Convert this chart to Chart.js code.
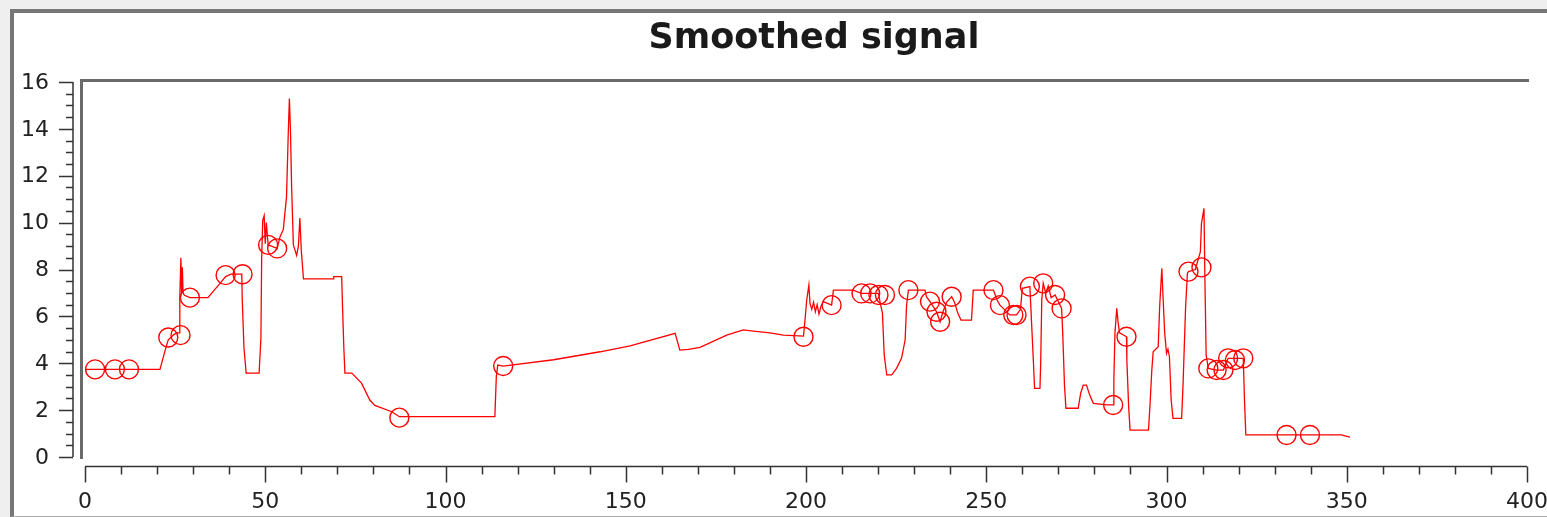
<!DOCTYPE html>
<html>
<head>
<meta charset="utf-8">
<script src="https://cdn.jsdelivr.net/npm/chart.js@4"></script>
<style>
    html, body { margin: 0; padding: 0; background: #efefef; overflow: hidden; }
    #frame {
        position: absolute; left: 10px; top: 9px; width: 1560px; height: 503px;
        background: #fff; border-left: 4px solid #777; border-top: 4px solid #777;
        border-bottom: 1px solid #aaa;
    }
    #wrap { position: absolute; left: 0; top: 0; width: 1547px; height: 517px; }
</style>
</head>
<body>
<div id="frame"></div>
<div id="wrap"><canvas id="signal"></canvas></div>
<script>
// smoothed signal
const lineX = [0, 20.8, 21.6, 22.5, 23.1, 24.5, 25.5, 26.1, 26.3, 26.6, 26.8, 27.0, 27.2, 27.6, 29.1, 34.1, 37.4, 39.0, 40.5, 43.5,
    43.6, 44.1, 44.7, 48.3, 48.8, 49.0, 49.3, 49.7, 50.0, 50.3, 50.8, 53.3, 54.1, 55.0, 55.9, 56.4, 56.7, 57.0, 57.3, 57.8,
    58.7, 59.2, 59.6, 60.0, 60.6, 68.8, 69.0, 71.2, 71.4, 71.8, 72.1, 74.0, 76.7, 79.0, 80.4, 85.1, 87.2, 113.7, 113.8, 114.1,
    114.5, 116.0, 130.0, 142.9, 151.2, 163.7, 165.0, 167.4, 170.6, 178.0, 182.6, 185.4, 190.0, 193.7, 199.3, 199.6, 200.2, 200.8, 201.1, 201.6,
    202.1, 202.6, 203.1, 203.6, 204.1, 204.8, 207.1, 207.6, 213.1, 215.4, 220.1, 220.6, 221.2, 221.7, 222.4, 223.8, 225.1, 226.5, 227.5, 227.9,
    228.4, 233.0, 233.4, 234.4, 236.2, 237.2, 238.0, 239.0, 240.4, 241.2, 242.1, 243.0, 245.9, 246.4, 252.0, 253.0, 253.8, 255.0, 256.5, 258.4,
    259.5, 260.0, 262.1, 263.1, 263.4, 264.9, 265.1, 265.4, 265.8, 266.5, 267.2, 268.0, 269.1, 270.9, 271.2, 271.7, 272.1, 275.5, 276.2, 276.9,
    277.8, 278.7, 279.7, 283.4, 285.2, 285.4, 285.7, 286.2, 286.6, 287.0, 288.9, 289.0, 289.5, 289.9, 295.0, 295.4, 295.9, 296.3, 297.7, 298.1,
    298.7, 299.0, 299.5, 300.0, 300.4, 300.8, 301.3, 301.8, 304.2, 304.6, 305.3, 305.8, 306.1, 308.0, 309.4, 309.7, 310.4, 310.6, 311.0, 311.6,
    313.9, 315.8, 317.1, 321.3, 321.6, 322.0, 348.5, 350.9];
const lineY = [3.74, 3.74, 4.2, 4.7, 5.0, 5.2, 5.3, 5.3, 6.8, 8.5, 7.0, 8.1, 7.0, 6.9, 6.8, 6.8, 7.4, 7.7, 7.8, 7.8,
    6.8, 4.65, 3.58, 3.58, 5.1, 8.4, 10.1, 10.3, 9.1, 10.0, 9.05, 8.9, 9.4, 9.7, 11.1, 13.9, 15.3, 13.9, 11.6, 9.05,
    8.6, 9.0, 10.2, 8.8, 7.6, 7.6, 7.7, 7.7, 6.6, 4.65, 3.58, 3.58, 3.15, 2.43, 2.2, 1.93, 1.72, 1.72, 2.2, 3.43,
    3.92, 3.88, 4.15, 4.49, 4.74, 5.28, 4.56, 4.59, 4.68, 5.2, 5.42, 5.37, 5.30, 5.2, 5.16, 5.63, 6.7, 7.34, 6.56, 6.3,
    6.6, 6.2, 6.5, 6.1, 6.4, 6.63, 6.48, 7.12, 7.12, 6.98, 6.98, 6.57, 6.14, 4.35, 3.5, 3.5, 3.78, 4.21, 4.99, 6.48,
    7.12, 7.12, 6.84, 6.63, 6.2, 5.77, 6.2, 6.6, 6.84, 6.6, 6.14, 5.84, 5.84, 7.12, 7.12, 6.7, 6.48, 6.3, 6.06, 6.06,
    6.3, 7.2, 7.27, 4.0, 2.93, 2.93, 4.0, 6.7, 7.41, 7.0, 7.3, 6.8, 6.91, 6.34, 5.35, 3.07, 2.08, 2.08, 2.72, 3.07,
    3.07, 2.64, 2.29, 2.22, 2.22, 3.28, 5.28, 6.34, 5.7, 5.3, 5.13, 4.14, 2.15, 1.15, 1.15, 2.15, 3.64, 4.49, 4.71, 6.41,
    8.05, 6.98, 5.28, 4.42, 4.6, 4.3, 2.43, 1.65, 1.65, 3.14, 6.41, 7.84, 7.91, 8.0, 8.76, 9.97, 10.61, 8.1, 4.35, 3.78,
    3.71, 3.71, 4.21, 4.21, 2.57, 0.94, 0.94, 0.85];

// circled samples
const markX = [2.8, 8.3, 12.2, 23.1, 26.5, 29.1, 39.0, 43.7, 50.8, 53.3, 87.2, 116.0, 199.3, 207.1, 215.4, 217.8, 220.1, 221.9,
    228.4, 234.4, 236.2, 237.2, 240.4, 252.0, 253.8, 257.5, 258.4, 262.1, 265.8, 269.1, 270.9, 285.2, 288.9, 306.1, 309.7,
    311.6, 313.9, 315.8, 317.1, 319.0, 321.3, 333.3, 339.8];
const markY = [3.74, 3.74, 3.74, 5.1, 5.2, 6.8, 7.76, 7.8, 9.05, 8.9, 1.68, 3.88, 5.13, 6.48, 6.98, 6.98, 6.91, 6.91,
    7.12, 6.63, 6.2, 5.77, 6.84, 7.12, 6.48, 6.06, 6.06, 7.27, 7.41, 6.91, 6.34, 2.22, 5.13, 7.91, 8.09,
    3.78, 3.71, 3.71, 4.21, 4.14, 4.21, 0.94, 0.94];

const xTicks = [0, 50, 100, 150, 200, 250, 300, 350, 400];
const yTicks = [0, 2, 4, 6, 8, 10, 12, 14, 16];
const xMinorStep = 10;
const yMinorStep = 0.5;

const toPoints = (xs, ys) => xs.map((v, i) => ({x: v, y: ys[i]}));

// scilab-like rulers, offset from the plot box
const rulers = {
    id: 'rulers',
    afterDraw: (chart) => {
        const {ctx, scales: {x, y}} = chart;
        const xMin = xTicks[0], xMax = xTicks[xTicks.length - 1];
        const yMin = yTicks[0], yMax = yTicks[yTicks.length - 1];
        ctx.save();

        // box (top + left only)
        ctx.strokeStyle = '#6a6a6a';
        ctx.lineWidth = 3;
        ctx.beginPath();
        ctx.moveTo(x.left - 3.5, y.getPixelForValue(yMin) + 2);
        ctx.lineTo(x.left - 3.5, y.top - 1.5);
        ctx.lineTo(x.right + 2, y.top - 1.5);
        ctx.stroke();

        ctx.strokeStyle = '#333';
        ctx.lineWidth = 1.5;
        ctx.fillStyle = '#222';
        ctx.font = '22px "DejaVu Sans"';

        // y ruler
        const rx = x.left - 12;
        ctx.beginPath();
        ctx.moveTo(rx, y.getPixelForValue(yMin));
        ctx.lineTo(rx, y.getPixelForValue(yMax));
        for (let v = yMin; v <= yMax + 1e-9; v += yMinorStep) {
            const py = Math.round(y.getPixelForValue(v)) + 0.5;
            const major = yTicks.includes(Math.round(v * 100) / 100);
            ctx.moveTo(rx, py);
            ctx.lineTo(rx - (major ? 14 : 7), py);
        }
        ctx.stroke();
        ctx.textAlign = 'right';
        ctx.textBaseline = 'middle';
        yTicks.forEach(v => ctx.fillText(String(v), rx - 24, y.getPixelForValue(v) + 1));

        // x ruler
        const ry = y.bottom + 9.5;
        ctx.beginPath();
        ctx.moveTo(x.getPixelForValue(xMin), ry);
        ctx.lineTo(x.getPixelForValue(xMax), ry);
        for (let v = xMin; v <= xMax; v += xMinorStep) {
            const px = Math.round(x.getPixelForValue(v)) + 0.5;
            const major = xTicks.includes(v);
            ctx.moveTo(px, ry);
            ctx.lineTo(px, ry + (major ? 16 : 8));
        }
        ctx.stroke();
        ctx.textAlign = 'center';
        xTicks.forEach(v => ctx.fillText(String(v), x.getPixelForValue(v), ry + 36));

        // title
        ctx.font = 'bold 35px "DejaVu Sans"';
        ctx.fillStyle = '#1a1a1a';
        ctx.fillText('Smoothed signal', 814, 39);
        ctx.restore();
    }
};

new Chart('signal', {
    type: 'scatter',
    data: {
        datasets: [
            {
                label: 'signal',
                data: toPoints(lineX, lineY),
                showLine: true,
                borderColor: '#ff0000',
                borderWidth: 1.3,
                pointRadius: 0,
                tension: 0
            },
            {
                label: 'marks',
                data: toPoints(markX, markY),
                showLine: false,
                pointStyle: 'circle',
                pointRadius: 9.5,
                borderColor: '#ff0000',
                backgroundColor: 'rgba(0,0,0,0)',
                borderWidth: 1.4
            }
        ]
    },
    options: {
        responsive: true,
        maintainAspectRatio: false,
        animation: false,
        events: [],
        layout: {
            padding: {left: 85, right: 20, top: 82, bottom: 60}
        },
        plugins: {
            legend: {display: false},
            tooltip: {enabled: false},
            title: {display: false}
        },
        scales: {
            x: {type: 'linear', min: 0, max: 400, display: false},
            y: {type: 'linear', min: 0, max: 16, display: false}
        }
    },
    plugins: [rulers]
});
</script>
</body>
</html>
